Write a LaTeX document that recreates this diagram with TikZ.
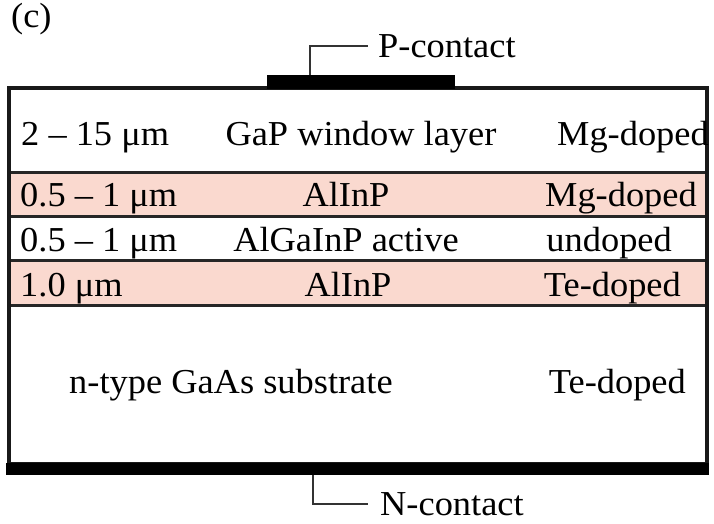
\documentclass[tikz,border=0pt]{standalone}
\usepackage{fontspec}
\setmainfont[FakeStretch=1.04]{Liberation Serif}
\definecolor{layerpink}{HTML}{FAD9CF}
\tikzset{
  lbl/.style={inner sep=0pt, font=\fontsize{35}{40}\selectfont},
  lyrline/.style={line width=3pt, draw=black!85},
  leader/.style={line width=1.6pt, draw=black!80},
}
\begin{document}
\begin{tikzpicture}[x=1pt,y=-1pt]
\useasboundingbox (0,0) rectangle (714,523);
% layers
\fill[white] (9,88) rectangle (707,464);
\fill[layerpink] (9,172) rectangle (707,216);
\fill[layerpink] (9,260) rectangle (707,305);
\draw[lyrline] (9,172) -- (707,172);
\draw[lyrline] (9,216) -- (707,216);
\draw[lyrline] (9,260) -- (707,260);
\draw[lyrline] (9,305) -- (707,305);
\draw[line width=3.5pt, draw=black!90] (9,88) rectangle (707,464);
% contacts
\node[fill=black, inner sep=0pt, minimum width=188pt, minimum height=14pt, anchor=south west] (pc) at (267,89) {};
\node[fill=black, inner sep=0pt, minimum width=703pt, minimum height=12pt, anchor=north west] (nc) at (6,463) {};
% labels
\node[lbl, anchor=base west] (fig) at (11,27) {(c)};
\node[lbl, anchor=base west] (pl) at (378,57) {P-contact};
\node[lbl, anchor=base west] (nl) at (380,515) {N-contact};
\draw[leader] ([xshift=43pt]pc.north west) |- ([xshift=-10pt]pl.west);
\draw[leader] ([xshift=307pt]nc.south west) |- ([xshift=-12pt]nl.west);
% row 1
\node[lbl, anchor=base west] (t1) at (21,145) {2 – 15 μm};
\node[lbl, anchor=base] (m1) at (361,145) {GaP window layer};
\node[lbl, anchor=base east] (d1) at (709,145) {Mg-doped};
% row 2
\node[lbl, anchor=base west] (t2) at (20,206) {0.5 – 1 μm};
\node[lbl, anchor=base] (m2) at (346,206) {AlInP};
\node[lbl, anchor=base east] (d2) at (697,206) {Mg-doped};
% row 3
\node[lbl, anchor=base west] (t3) at (20,251) {0.5 – 1 μm};
\node[lbl, anchor=base] (m3) at (346,251) {AlGaInP active};
\node[lbl, anchor=base east] (d3) at (672,251) {undoped};
% row 4
\node[lbl, anchor=base west] (t4) at (20,296) {1.0 μm};
\node[lbl, anchor=base] (m4) at (348,296) {AlInP};
\node[lbl, anchor=base east] (d4) at (681,296) {Te-doped};
% substrate
\node[lbl, anchor=base west] (m5) at (69,393) {n-type GaAs substrate};
\node[lbl, anchor=base east] (d5) at (686,393) {Te-doped};
\end{tikzpicture}
\end{document}
